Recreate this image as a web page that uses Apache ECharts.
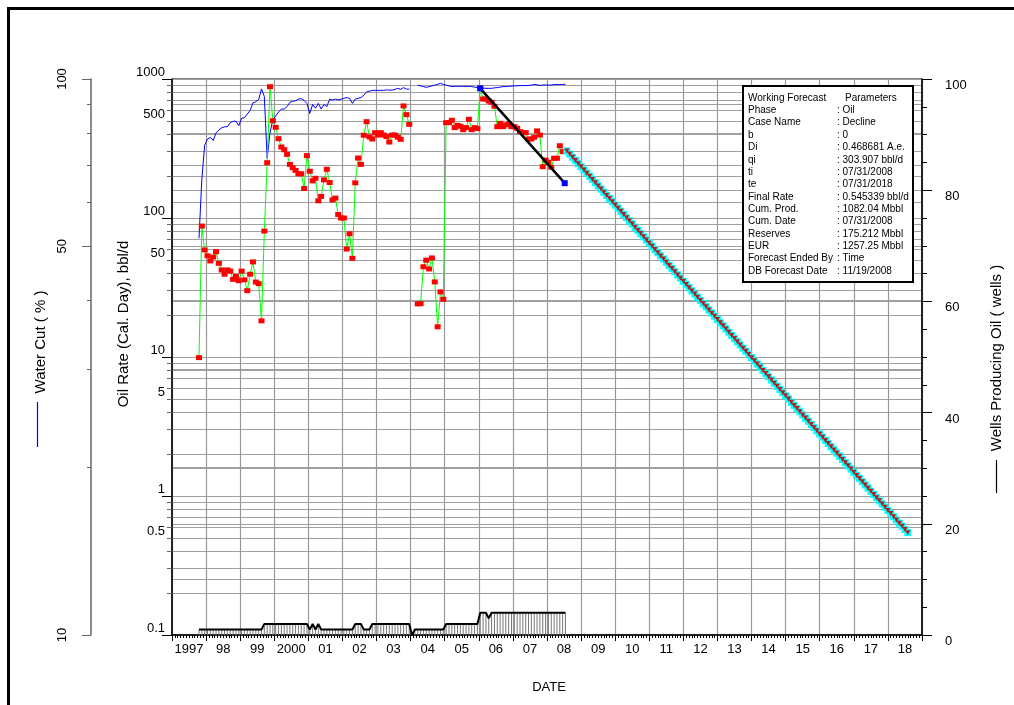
<!DOCTYPE html>
<html>
<head>
<meta charset="utf-8">
<title>Oil Rate forecast</title>
<script src="https://cdn.jsdelivr.net/npm/echarts@6/dist/echarts.min.js"></script>
<style>
  html, body { margin: 0; padding: 0; background: #fff; }
  #chart { width: 1014px; height: 705px; }
</style>
</head>
<body>
<div id="chart"></div>
<script>
// date axis labels, one per year (centred in the year)
var yearLabels = ['1997','98','99','2000','01','02','03','04','05','06','07','08','09','10','11','12','13','14','15','16','17','18'];
var oilLabelValues = [0.1, 0.5, 1, 5, 10, 50, 100, 500, 1000];
var waterLabelValues = [10, 50, 100];
var waterTickValues = [10, 20, 30, 40, 50, 60, 70, 80, 90, 100];

// monthly history, first month is Oct 1997
var histStartYear = 1997, histStartMonth = 10;
var oilRate = [
  9.9, 87.5, 58.9,
  53.5, 49.1, 52.4, 57.2, 47.2, 42.3, 39.4, 42.3, 41.5, 36.2, 38.0, 35.4,
  41.5, 35.9, 30.0, 39.4, 48.3, 34.6, 33.7, 18.2, 80.5, 250, 880, 501,
  449, 372, 324, 310, 287, 243, 230, 220, 208, 208, 163, 281,
  217, 185, 193, 133, 143, 188, 224, 180, 135, 139, 106, 100,
  100, 59.8, 77.0, 51.3, 179, 270, 243, 394, 493, 383, 370, 411,
  395, 411, 395, 385, 352, 395, 395, 381, 368, 640, 554, 472,
  null, null, 24.1, 24.2, 44.6, 49.7, 43.0, 51.6, 34.7, 16.5, 29.4, 26.0,
  485, 485, 505, 447, 464, 457, 432, 447, 513, 432, 447, 440,
  857, 718, 718, 694, 680, 636, 454, 480, 454, 467, 474, 454,
  454, 442, 418, 411, 411, 370, 370, 381, 423, 395, 234, 261,
  252, 232, 269, 269, 331, 300, 303
];
var waterCut = [
  51.7, 66, 76,
  78, 78.5, 77.5, 80, 81, 81.7, 82, 82.1, 83.5, 83.9, 84.0, 82.4,
  85.0, 85.2, 86.5, 87.8, 90.6, 91.0, 91.8, 96.0, 93.0, 72, 80, 84.5,
  85.8, 87.2, 88.3, 88.3, 89.2, 90.8, 91.2, 91.4, 92.0, 92.2, 91.5, 90.4,
  86.7, 90.0, 88.6, 90.4, 88.3, 90.0, 89.2, 92.0, 91.7, 92.0, 91.7, 92.0,
  92.3, 92.6, 92.3, 90.4, 92.0, 92.3, 92.6, 93.5, 94.8, 95.1, 95.4, 95.4,
  95.4, 95.4, 95.4, 95.6, 95.5, 95.5, 95.8, 96.2, 95.8, 96.5, 95.9, 95.9,
  null, null, 97.5, 97.2, 96.9, 96.6, 96.9, 97.2, 97.5, 97.8, 98.2, 97.8,
  97.5, 97.2, 96.9, 97.0, 97.0, 97.0, 97.0, 97.0, 97.0, 96.9, 96.7, 96.5,
  96.5, 96.3, 96.2, 96.2, 96.2, 96.4, 96.5, 96.7, 96.9, 96.9, 97.0, 97.1,
  97.2, 97.2, 97.3, 97.3, 97.3, 97.4, 97.5, 97.8, 97.6, 97.4, 97.5, 97.6,
  97.5, 97.5, 97.7, 97.8, 97.7, 97.8, 97.8
];
var wellsProducing = [
  1, 1, 1,
  1, 1, 1, 1, 1, 1, 1, 1, 1, 1, 1, 1,
  1, 1, 1, 1, 1, 1, 1, 1, 2, 2, 2, 2,
  2, 2, 2, 2, 2, 2, 2, 2, 2, 2, 2, 2,
  1, 2, 1, 2, 1, 1, 1, 1, 1, 1, 1, 1,
  1, 1, 1, 1, 2, 2, 2, 1, 1, 1, 2, 2,
  2, 2, 2, 2, 2, 2, 2, 2, 2, 2, 2, 2,
  0, 1, 1, 1, 1, 1, 1, 1, 1, 1, 1, 1,
  2, 2, 2, 2, 2, 2, 2, 2, 2, 2, 2, 2,
  4, 4, 4, 3, 4, 4, 4, 4, 4, 4, 4, 4,
  4, 4, 4, 4, 4, 4, 4, 4, 4, 4, 4, 4,
  4, 4, 4, 4, 4, 4, 4
];

// decline fit through the history (end points)
var fitTime = [2006.04, 2008.52];
var fitRate = [857, 178];

// monthly forecast from 07/31/2008 to 07/31/2018
var forecastStart = 2008 + 7 / 12;
var forecastRate = [
  303.9, 288.3, 273.5, 259.5, 246.1, 233.5, 221.5, 210.2, 199.4, 189.1, 179.4, 170.2,
  161.5, 153.2, 145.3, 137.9, 130.8, 124.1, 117.7, 111.7, 105.9, 100.5, 95.35, 90.45,
  85.79, 81.39, 77.21, 73.24, 69.49, 65.92, 62.54, 59.33, 56.28, 53.39, 50.65, 48.05,
  45.58, 43.24, 41.02, 38.92, 36.92, 35.02, 33.23, 31.52, 29.90, 28.37, 26.91, 25.53,
  24.22, 22.98, 21.80, 20.68, 19.62, 18.61, 17.65, 16.75, 15.89, 15.07, 14.30, 13.57,
  12.87, 12.21, 11.58, 10.99, 10.42, 9.889, 9.381, 8.900, 8.443, 8.010, 7.598, 7.208,
  6.838, 6.487, 6.154, 5.838, 5.538, 5.254, 4.985, 4.729, 4.486, 4.256, 4.037, 3.830,
  3.633, 3.447, 3.270, 3.102, 2.943, 2.792, 2.648, 2.512, 2.383, 2.261, 2.145, 2.035,
  1.930, 1.831, 1.737, 1.648, 1.563, 1.483, 1.407, 1.335, 1.266, 1.201, 1.139, 1.081,
  1.026, 0.973, 0.923, 0.876, 0.831, 0.788, 0.748, 0.709, 0.673, 0.638, 0.606, 0.574,
  0.545
];

var paramRows = [
  ['Working Forecast', 'Parameters'],
  ['Phase', ': Oil'],
  ['Case Name', ': Decline'],
  ['b', ': 0'],
  ['Di', ': 0.468681 A.e.'],
  ['qi', ': 303.907 bbl/d'],
  ['ti', ': 07/31/2008'],
  ['te', ': 07/31/2018'],
  ['Final Rate', ': 0.545339 bbl/d'],
  ['Cum. Prod.', ': 1082.04 Mbbl'],
  ['Cum. Date', ': 07/31/2008'],
  ['Reserves', ': 175.212 Mbbl'],
  ['EUR', ': 1257.25 Mbbl'],
  ['Forecast Ended By', ': Time'],
  ['DB Forecast Date', ': 11/19/2008']
];

var FONT = '"Liberation Sans", Arial, sans-serif';

function monthTime(i) {
  return histStartYear + (histStartMonth - 1 + i + 0.5) / 12;
}
function pairs(values) {
  return values.map(function (v, i) { return [monthTime(i), v]; });
}

var oilData = pairs(oilRate);
var waterData = pairs(waterCut);
var wellsData = pairs(wellsProducing);
var fitData = fitTime.map(function (t, i) { return [t, fitRate[i]]; });
var forecastData = forecastRate.map(function (v, k) { return [forecastStart + k / 12, v]; });

// grid lines of the log oil axis: 1..9 x each decade
var oilGridValues = [];
[0.1, 1, 10, 100].forEach(function (d) {
  for (var k = 1; k < 10; k++) oilGridValues.push(+(d * k).toPrecision(3));
});
oilGridValues.push(1000);

var gridLineColor = '#a0a0a0';

function centeredText(text, x, y, size, rot) {
  return { type: 'text', silent: true, z: 100, x: x, y: y, rotation: rot || 0,
    style: { text: text, font: size + 'px ' + FONT, fill: '#000',
      align: 'center', verticalAlign: 'middle', textAlign: 'center', textVerticalAlign: 'middle' } };
}

var graphic = [
  { type: 'rect', silent: true, z: 100,
    shape: { x: 8.5, y: 8.5, width: 1100, height: 800 },
    style: { fill: 'none', stroke: '#000', lineWidth: 3 } },
  { type: 'rect', silent: true, z: 90,
    shape: { x: 743, y: 86, width: 170, height: 196 },
    style: { fill: '#fff', stroke: '#000', lineWidth: 2 } },
  centeredText('Oil Rate (Cal. Day), bbl/d', 124, 324, 15, Math.PI / 2),
  centeredText('Water Cut ( % )', 41, 342, 15, Math.PI / 2),
  { type: 'line', silent: true, z: 100,
    shape: { x1: 37.5, y1: 402, x2: 37.5, y2: 447 },
    style: { stroke: '#0000ff', lineWidth: 1.2 } },
  centeredText('Wells Producing Oil ( wells )', 997, 358, 15, Math.PI / 2),
  { type: 'line', silent: true, z: 100,
    shape: { x1: 996.5, y1: 460, x2: 996.5, y2: 493 },
    style: { stroke: '#000', lineWidth: 1.2 } },
  centeredText('DATE', 549, 687, 13, 0)
];
paramRows.forEach(function (row, i) {
  var y = 98 + i * 12.35;
  graphic.push({ type: 'text', silent: true, z: 95, x: 748, y: y,
    style: { text: row[0], font: '10px ' + FONT, fill: '#000', verticalAlign: 'middle', textVerticalAlign: 'middle' } });
  graphic.push({ type: 'text', silent: true, z: 95, x: i === 0 ? 845 : 837, y: y,
    style: { text: row[1], font: '10px ' + FONT, fill: '#000', verticalAlign: 'middle', textVerticalAlign: 'middle' } });
});

var chart = echarts.init(document.getElementById('chart'));
chart.setOption({
  animation: false,
  backgroundColor: '#fff',
  textStyle: { fontFamily: FONT },
  grid: {
    left: 172, top: 79, right: 92, bottom: 70,
    show: true, borderColor: '#000', borderWidth: 1, backgroundColor: 'transparent',
    outerBoundsMode: 'none'
  },
  xAxis: {
    type: 'value', min: 1997, max: 2019, interval: 1,
    axisLine: { onZero: false, lineStyle: { color: '#000', width: 1.5 } },
    axisTick: { show: true, length: 6, lineStyle: { color: '#000' } },
    minorTick: { show: true, splitNumber: 12, length: 3, lineStyle: { color: '#000' } },
    splitLine: { show: true, lineStyle: { color: '#999', width: 1.2 } },
    axisLabel: {
      customValues: yearLabels.map(function (s, i) { return 1997.5 + i; }),
      formatter: function (v) { return yearLabels[Math.floor(v) - 1997]; },
      color: '#000', fontSize: 13, margin: 8
    }
  },
  yAxis: [
    { // 0: oil rate
      type: 'log', logBase: 10, min: 0.1, max: 1000, position: 'left',
      axisLine: { show: true, lineStyle: { color: '#000', width: 1.5 } },
      axisTick: { show: true, length: 5, customValues: oilGridValues, lineStyle: { color: '#666' } },
      splitLine: { show: true, lineStyle: { color: gridLineColor, width: 1 } },
      axisLabel: {
        customValues: oilLabelValues, color: '#000', fontSize: 13, margin: 7,
        verticalAlign: 'bottom',
        formatter: function (v) { return String(v); }
      }
    },
    { // 1: water cut (labels drawn below as rotated text)
      type: 'log', logBase: 10, min: 10, max: 100, position: 'left', offset: 81,
      axisLine: { show: true, lineStyle: { color: '#666', width: 1.5 } },
      axisTick: { show: true, length: 4, customValues: waterTickValues, lineStyle: { color: '#666' } },
      splitLine: { show: true, lineStyle: { color: gridLineColor, width: 1 } },
      axisLabel: { show: false }
    },
    { // 2: wells producing
      type: 'value', min: 0, max: 100, interval: 20, position: 'right',
      axisLine: { show: true, lineStyle: { color: '#000', width: 1.5 } },
      axisTick: { show: true, length: 10, lineStyle: { color: '#000' } },
      minorTick: { show: true, splitNumber: 4, length: 5, lineStyle: { color: '#000' } },
      splitLine: { show: false },
      axisLabel: { color: '#000', fontSize: 13, margin: 23, verticalAlign: 'top', align: 'left' }
    },
    { // 3: long decade ticks of the oil axis
      type: 'log', logBase: 10, min: 0.1, max: 1000, position: 'left',
      axisLine: { show: false }, axisLabel: { show: false }, splitLine: { show: false },
      axisTick: { show: true, length: 10, lineStyle: { color: '#000' } }
    },
    { // 4: long ticks of the water cut axis
      type: 'log', logBase: 10, min: 10, max: 100, position: 'left', offset: 81,
      axisLine: { show: false }, axisLabel: { show: false }, splitLine: { show: false },
      axisTick: { show: true, length: 9, customValues: waterLabelValues, lineStyle: { color: '#666' } }
    },
    { // 5: wells grid lines
      type: 'value', min: 0, max: 100, interval: 10, position: 'right',
      axisLine: { show: false }, axisLabel: { show: false }, axisTick: { show: false },
      splitLine: { show: true, lineStyle: { color: gridLineColor, width: 1 } }
    }
  ],
  series: [
    { name: 'Wells bars', type: 'bar', yAxisIndex: 2, data: wellsData, barWidth: 1,
      itemStyle: { color: '#777' }, silent: true, z: 2 },
    { name: 'Wells Producing Oil', type: 'line', yAxisIndex: 2, data: wellsData, symbol: 'none',
      lineStyle: { color: '#000', width: 2 }, silent: true, z: 3 },
    { name: 'Water Cut', type: 'line', yAxisIndex: 1, data: waterData, symbol: 'none',
      lineStyle: { color: '#0000ff', width: 1 }, silent: true, z: 3 },
    { name: 'Oil Rate', type: 'line', yAxisIndex: 0, data: oilData,
      symbol: 'rect', symbolSize: [6, 5], showSymbol: true,
      itemStyle: { color: '#ff0000' }, lineStyle: { color: '#00ff00', width: 1 }, silent: true, z: 4 },
    { name: 'Fit', type: 'line', yAxisIndex: 0, data: fitData, symbol: 'rect', symbolSize: 6,
      itemStyle: { color: '#0000ff' }, lineStyle: { color: '#000', width: 2.5 }, silent: true, z: 5 },
    { name: 'Forecast marks', type: 'line', yAxisIndex: 0, data: forecastData,
      symbol: 'rect', symbolSize: 7, itemStyle: { color: '#00ffff' },
      lineStyle: { width: 0, opacity: 0 }, silent: true, z: 5 },
    { name: 'Forecast', type: 'line', yAxisIndex: 0, data: forecastData,
      symbol: 'triangle', symbolRotate: 180, symbolSize: 5,
      itemStyle: { color: '#b02020' }, lineStyle: { color: '#a03030', width: 1 }, silent: true, z: 6 }
  ],
  graphic: graphic
});

// water cut tick labels, rotated, placed through the water cut axis scale
var waterLabelGraphics = waterLabelValues.map(function (v) {
  var y = chart.convertToPixel({ yAxisIndex: 1 }, v);
  return centeredText(String(v), 62, y, 13, Math.PI / 2);
});
chart.setOption({ graphic: graphic.concat(waterLabelGraphics) });
</script>
</body>
</html>
